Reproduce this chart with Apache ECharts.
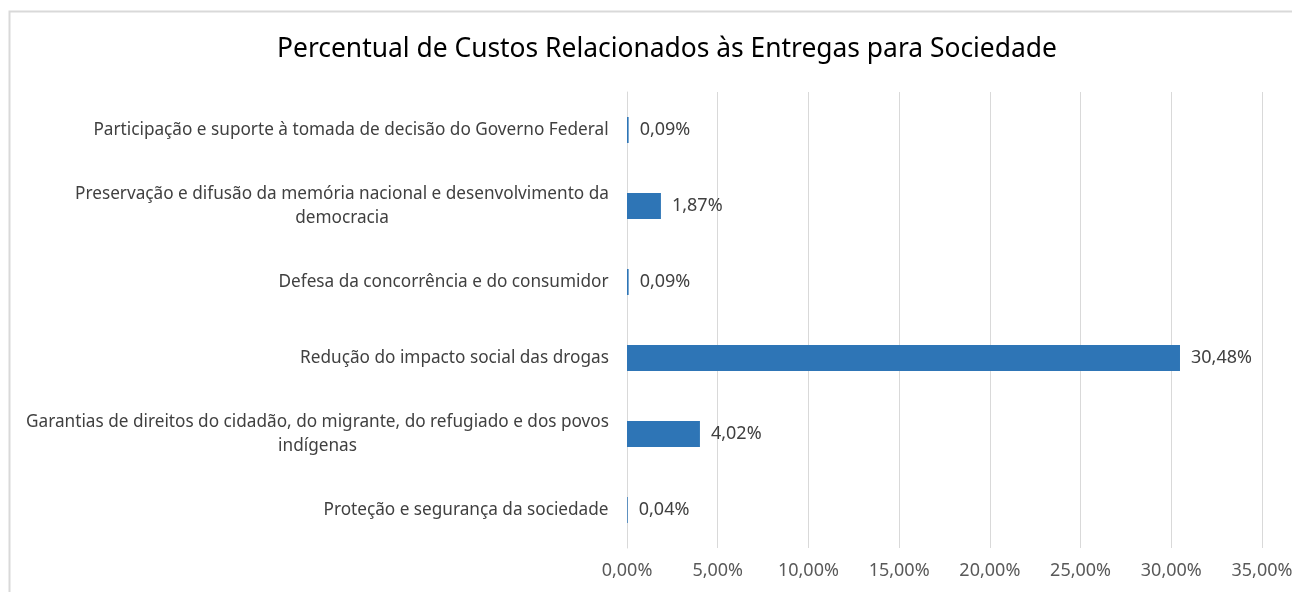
<!DOCTYPE html>
<html>
<head>
<meta charset="utf-8">
<script src="https://cdn.jsdelivr.net/npm/echarts@6/dist/echarts.min.js"></script>
<style>
  html, body { margin: 0; padding: 0; background: #fff; }
  #chart { width: 1292px; height: 592px; }
</style>
</head>
<body>
<div id="chart"></div>
<script>
// 数据
const titleText = 'Percentual de Custos Relacionados às Entregas para Sociedade';
const categories = [
  'Participação e suporte à tomada de decisão do Governo Federal',
  'Preservação e difusão da memória nacional e desenvolvimento da\ndemocracia',
  'Defesa da concorrência e do consumidor',
  'Redução do impacto social das drogas',
  'Garantias de direitos do cidadão, do migrante, do refugiado e dos povos\nindígenas',
  'Proteção e segurança da sociedade'
];
const percentValues = [0.09, 1.87, 0.09, 30.48, 4.02, 0.04];

const fontFamily = 'Noto Sans';
const catSize = 17.2;
const numSize = 18;

// 百分比格式 (逗号小数)
function fmtPct(v) {
  return v.toFixed(2).replace('.', ',') + '%';
}

// 测量文字宽度, 让两行标签居中对齐
const ctx = document.createElement('canvas').getContext('2d');
ctx.font = catSize + 'px "' + fontFamily + '"';
const richStyles = {};
categories.forEach((c, i) => {
  const lines = c.split('\n');
  const w = Math.max(...lines.map(l => ctx.measureText(l).width));
  richStyles['c' + i] = {
    width: Math.ceil(w),
    align: 'center',
    fontSize: catSize,
    fontFamily: fontFamily,
    color: '#404040',
    lineHeight: 24
  };
});

const chart = echarts.init(document.getElementById('chart'));

const option = {
  animation: false,
  backgroundColor: '#fff',
  title: {
    text: titleText,
    left: 662,
    textAlign: 'center',
    top: 31,
    textStyle: { fontFamily: fontFamily, fontSize: 26.4, fontWeight: 'normal', color: '#000' }
  },
  graphic: [{
    type: 'rect',
    shape: { x: 9.5, y: 11.5, width: 1300, height: 600 },
    style: { fill: 'none', stroke: '#d9d9d9', lineWidth: 2 },
    silent: true
  }],
  grid: { left: 627, right: 30, top: 92, bottom: 44, outerBoundsMode: 'none', containLabel: false },
  xAxis: {
    type: 'value',
    min: 0,
    max: 35,
    interval: 5,
    axisLine: { show: false },
    axisTick: { show: false },
    splitLine: { lineStyle: { color: '#d9d9d9', width: 1 } },
    axisLabel: {
      formatter: v => fmtPct(v),
      color: '#595959',
      fontFamily: fontFamily,
      fontSize: numSize,
      margin: 14
    }
  },
  yAxis: {
    type: 'category',
    inverse: true,
    data: categories,
    axisLine: { show: true, lineStyle: { color: '#d9d9d9', width: 1 } },
    axisTick: { show: false },
    axisLabel: {
      margin: 18,
      formatter: (value, idx) => value.split('\n').map(l => '{c' + idx + '|' + l + '}').join('\n'),
      rich: richStyles
    }
  },
  series: [{
    type: 'bar',
    data: percentValues,
    barWidth: 26,
    itemStyle: { color: '#2e75b6' },
    label: {
      show: true,
      position: 'right',
      distance: 11,
      formatter: p => fmtPct(p.value),
      color: '#404040',
      fontFamily: fontFamily,
      fontSize: numSize
    }
  }]
};

chart.setOption(option);
</script>
</body>
</html>
